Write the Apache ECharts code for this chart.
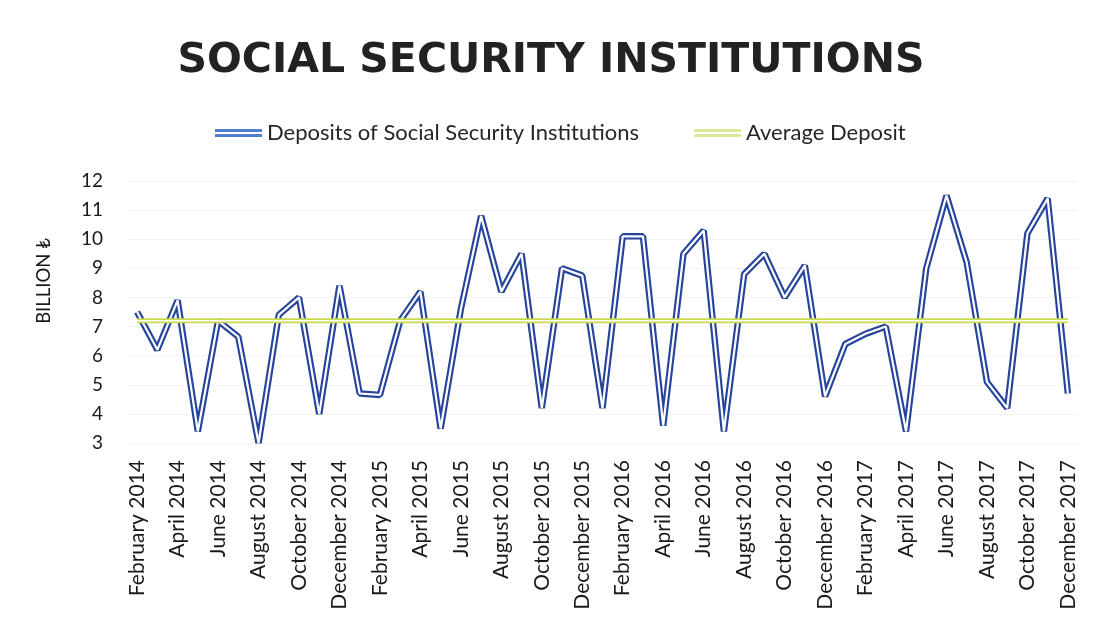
<!DOCTYPE html>
<html>
<head>
<meta charset="utf-8">
<script src="https://cdn.jsdelivr.net/npm/echarts@6/dist/echarts.min.js"></script>
<style>
html,body{margin:0;padding:0;background:#fff;}
#c{width:1102px;height:629px;}
</style>
</head>
<body>
<div id="c"></div>
<script>
const months = [
  'February 2014','March 2014','April 2014','May 2014','June 2014','July 2014','August 2014','September 2014','October 2014','November 2014','December 2014',
  'January 2015','February 2015','March 2015','April 2015','May 2015','June 2015','July 2015','August 2015','September 2015','October 2015','November 2015','December 2015',
  'January 2016','February 2016','March 2016','April 2016','May 2016','June 2016','July 2016','August 2016','September 2016','October 2016','November 2016','December 2016',
  'January 2017','February 2017','March 2017','April 2017','May 2017','June 2017','July 2017','August 2017','September 2017','October 2017','November 2017','December 2017'
];
const deposits = [
  7.5, 6.2, 7.9, 3.4, 7.2, 6.65, 3.0, 7.4, 8.0, 4.0, 8.4,
  4.7, 4.65, 7.2, 8.2, 3.5, 7.6, 10.8, 8.2, 9.5, 4.2, 9.0, 8.75,
  4.2, 10.1, 10.1, 3.6, 9.5, 10.3, 3.4, 8.8, 9.5, 8.0, 9.1, 4.6,
  6.4, 6.75, 7.0, 3.4, 9.0, 11.5, 9.2, 5.1, 4.2, 10.2, 11.4, 4.7
];
const averageValue = 7.2;
const average = months.map(() => averageValue);
const yMin = 3, yMax = 12, yStep = 1;

const FONT = 'Lato, "DejaVu Sans", sans-serif';
const chart = echarts.init(document.getElementById('c'));
chart.setOption({
  animation: false,
  backgroundColor: '#ffffff',
  title: {
    text: 'SOCIAL SECURITY INSTITUTIONS',
    left: 'center',
    top: 36,
    textStyle: { fontFamily: '"DejaVu Sans", sans-serif', fontWeight: 'bold', fontSize: 41, color: '#222222' }
  },
  legend: {
    top: 117,
    left: 210,
    itemGap: 55,
    itemWidth: 47,
    itemHeight: 8,
    textStyle: { fontFamily: FONT, fontSize: 22, color: '#262626' },
    data: [
      { name: 'Deposits of Social Security Institutions', icon: 'path://M0,0H48V3H0Z M0,5H48V8H0Z', itemStyle: { color: '#4f7fd2' } },
      { name: 'Average Deposit', icon: 'path://M0,0H48V3H0Z M0,5H48V8H0Z', itemStyle: { color: '#dfe89a' } }
    ]
  },
  grid: { left: 127, right: 24, top: 181, bottom: 186, containLabel: false },
  xAxis: {
    type: 'category',
    data: months,
    boundaryGap: true,
    axisLine: { show: false },
    axisTick: { show: false },
    axisLabel: { interval: 1, rotate: 90, fontFamily: FONT, fontSize: 21, color: '#1a1a1a', margin: 17 }
  },
  yAxis: {
    type: 'value',
    min: yMin, max: yMax, interval: yStep,
    name: 'BILLION ₺',
    nameLocation: 'middle',
    nameGap: 73,
    nameRotate: 90,
    nameTextStyle: { fontFamily: FONT, fontSize: 18.5, color: '#1a1a1a', padding: [0, 0, 0, 62] },
    axisLine: { show: false },
    axisTick: { show: false },
    axisLabel: { fontFamily: FONT, fontSize: 19, color: '#1a1a1a', margin: 24 },
    splitLine: { show: true, lineStyle: { color: '#f3f3f3', width: 1 } }
  },
  series: [
    { name: 'Deposits of Social Security Institutions', type: 'line', data: deposits, symbol: 'none',
      lineStyle: { color: '#27449c', width: 6.5 }, itemStyle: { color: '#4f7fd2' }, z: 2 },
    { name: 'deposits-inner', type: 'line', data: deposits, symbol: 'none',
      lineStyle: { color: '#ffffff', width: 2.2 }, z: 3, silent: true },
    { name: 'Average Deposit', type: 'line', data: average, symbol: 'none',
      lineStyle: { color: '#c9da4c', width: 5 }, itemStyle: { color: '#dfe89a' }, z: 4 },
    { name: 'average-inner', type: 'line', data: average, symbol: 'none',
      lineStyle: { color: '#ffffff', width: 1.5 }, z: 5, silent: true }
  ]
});
</script>
</body>
</html>
